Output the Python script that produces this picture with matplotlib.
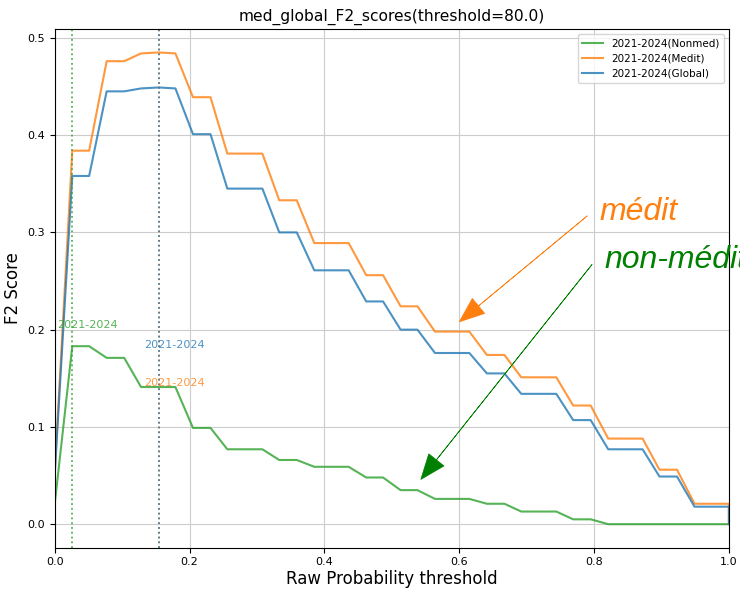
import matplotlib
matplotlib.use("Agg")
import matplotlib.pyplot as plt

# thresholds (40-step grid, last point repeated at 1.0)
thresholds = [0.000, 0.026, 0.051, 0.077, 0.103, 0.128, 0.154, 0.179, 0.205, 0.231,
              0.256, 0.282, 0.308, 0.333, 0.359, 0.385, 0.410, 0.436, 0.462, 0.487,
              0.513, 0.538, 0.564, 0.590, 0.615, 0.641, 0.667, 0.692, 0.718, 0.744,
              0.769, 0.795, 0.821, 0.846, 0.872, 0.897, 0.923, 0.949, 0.974, 1.000,
              1.000]

f2_nonmed = [0.021, 0.183, 0.183, 0.171, 0.171, 0.141, 0.141, 0.141, 0.099, 0.099,
             0.077, 0.077, 0.077, 0.066, 0.066, 0.059, 0.059, 0.059, 0.048, 0.048,
             0.035, 0.035, 0.026, 0.026, 0.026, 0.021, 0.021, 0.013, 0.013, 0.013,
             0.005, 0.005, 0.000, 0.000, 0.000, 0.000, 0.000, 0.000, 0.000, 0.000,
             0.000]

f2_medit = [0.054, 0.384, 0.384, 0.476, 0.476, 0.484, 0.485, 0.484, 0.439, 0.439,
            0.381, 0.381, 0.381, 0.333, 0.333, 0.289, 0.289, 0.289, 0.256, 0.256,
            0.224, 0.224, 0.198, 0.198, 0.198, 0.174, 0.174, 0.151, 0.151, 0.151,
            0.122, 0.122, 0.088, 0.088, 0.088, 0.056, 0.056, 0.021, 0.021, 0.021,
            0.000]

f2_global = [0.052, 0.358, 0.358, 0.445, 0.445, 0.448, 0.449, 0.448, 0.401, 0.401,
             0.345, 0.345, 0.345, 0.300, 0.300, 0.261, 0.261, 0.261, 0.229, 0.229,
             0.200, 0.200, 0.176, 0.176, 0.176, 0.155, 0.155, 0.134, 0.134, 0.134,
             0.107, 0.107, 0.077, 0.077, 0.077, 0.049, 0.049, 0.018, 0.018, 0.018,
             0.000]

period = "2021-2024"
series = [("Nonmed", f2_nonmed, "tab:green"),
          ("Medit", f2_medit, "tab:orange"),
          ("Global", f2_global, "tab:blue")]
# label positions for the best-threshold tags
tag_pos = {"Nonmed": (0.003, 0.205), "Medit": (0.133, 0.145), "Global": (0.133, 0.184)}

fig = plt.figure(figsize=(7.4, 5.89), dpi=100)
ax = fig.add_axes([0.074, 0.07, 0.911, 0.881])

for name, vals, col in series:
    ax.plot(thresholds, vals, color=col, alpha=0.8, lw=1.5, label=f"{period}({name})")

for name, vals, col in series:
    best = thresholds[vals.index(max(vals))]
    ax.axvline(best, color=col, ls=":", lw=1.3, alpha=0.8)
    tx, ty = tag_pos[name]
    ax.text(tx, ty, period, color=col, alpha=0.8, fontsize=8, va="center")

ax.set_xlim(0, 1)
ax.grid(True, color="#cccccc", lw=0.8)
ax.tick_params(labelsize=8)
ax.set_title("med_global_F2_scores(threshold=80.0)", fontsize=11.2)
ax.set_xlabel("Raw Probability threshold", fontsize=12, labelpad=2)
ax.set_ylabel("F2 Score", fontsize=12)
ax.legend(loc="upper right", fontsize=7.5)

ax.annotate("", xy=(0.600, 0.208), xytext=(0.790, 0.317),
            arrowprops=dict(facecolor="#ff7f0e", edgecolor="#ff7f0e", width=0.1,
                            lw=0.5, headwidth=14, headlength=18, shrink=0))
ax.annotate("", xy=(0.543, 0.046), xytext=(0.797, 0.267),
            arrowprops=dict(facecolor="green", edgecolor="green", width=0.1,
                            lw=0.5, headwidth=14, headlength=18, shrink=0))
ax.text(0.808, 0.321, "médit", color="#ff7f0e", fontsize=23, style="italic",
        family="Liberation Sans", va="center")
ax.text(0.816, 0.272, "non-médit", color="green", fontsize=23, style="italic",
        family="Liberation Sans", va="center", clip_on=False)

fig.savefig("out.png", dpi=100)
